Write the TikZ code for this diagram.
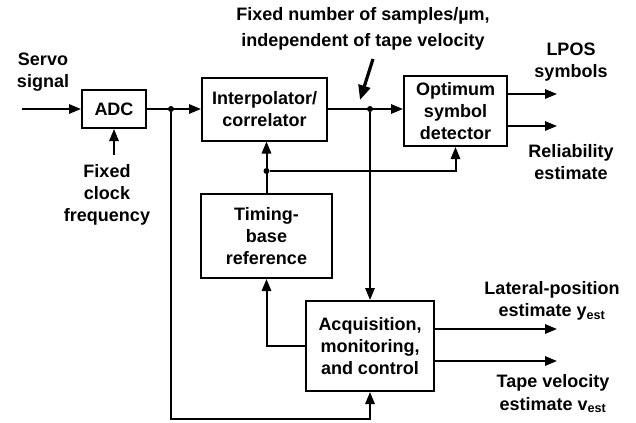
\documentclass[tikz,border=0pt]{standalone}
\usepackage{fontspec}
\setmainfont{Liberation Sans}
\usetikzlibrary{positioning,arrows.meta}

\newcommand{\blkfont}{\fontsize{13.5}{16.6}\selectfont}
\tikzset{
    blk/.style={draw, line width=1.5pt, align=center, font=\bfseries\blkfont, inner sep=0pt},
    lbl/.style={align=center, font=\bfseries\blkfont, inner sep=0pt},
    wire/.style={line width=1.5pt},
    sig/.style={wire, -{Triangle[length=9pt,width=7pt]}},
    dot/.style={circle, fill, inner sep=0pt, minimum size=4.5pt},
}

\begin{document}
\begin{tikzpicture}[x=0.75pt, y=-0.75pt]
    \useasboundingbox (0,0) rectangle (636,422);

    % processing blocks
    \node[blk, minimum width=48pt, minimum height=28.5pt] (adc) at (114,109) {ADC};
    \node[blk, minimum width=93.75pt, minimum height=47.25pt] (interp) at (264.5,109) {Interpolator/\\correlator};
    \node[blk, minimum width=77.25pt, minimum height=52.5pt] (detector) at (455.5,111) {Optimum\\symbol\\detector};
    \node[blk, minimum width=98.25pt, minimum height=63pt] (timing) at (266.5,236) {Timing-\\base\\reference};
    \node[blk, minimum width=96pt, minimum height=67.5pt] (acq) at (370,346) {Acquisition,\\monitoring,\\and control};

    % branch points
    \node[dot] (j1) at (171,109) {};
    \node[dot] (j2) at (370,109) {};
    \node[dot] (j3) at (266.5,171) {};

    \coordinate (servo) at (22,109);
    \coordinate (clock) at (114,155);
    \coordinate (bend) at (171,419);
    \coordinate (outA) at (557,94);
    \coordinate (outB) at (557,126);
    \coordinate (outC) at (557,329);
    \coordinate (outD) at (557,361);
    \coordinate (ptrA) at (373,59);
    \coordinate (ptrB) at (360,100);

    % signal path
    \draw[sig] (servo) -- (servo -| adc.west);
    \draw[sig] (clock) -- (adc.south);
    \draw[sig] (adc) -- (interp);
    \draw[sig] (interp.east) -- (interp.east -| detector.west);
    \draw[sig] (j2) -- (j2 |- acq.north);
    \draw[sig] (j1) -- (bend) -| (acq.south);
    \draw[sig] (timing.north) -- (timing.north |- interp.south);
    \draw[sig] (j3) -| (detector.south);
    \draw[sig] (acq.west) -| (timing.south);

    % outputs
    \draw[sig] (outA -| detector.east) -- (outA);
    \draw[sig] (outB -| detector.east) -- (outB);
    \draw[sig] (outC -| acq.east) -- (outC);
    \draw[sig] (outD -| acq.east) -- (outD);

    % labels
    \node[lbl] (servolbl) at (43,72.5) {Servo\\signal};
    \node[lbl] (clocklbl) at (107,195) {Fixed\\clock\\frequency};
    \node[lbl, font=\bfseries\fontsize{13.5}{19.5}\selectfont] (note) at (363,29)
        {Fixed number of samples/µm,\\independent of tape velocity};
    \draw[line width=2.4pt, -{Triangle[length=11pt,width=9pt]}] (ptrA) -- (ptrB);
    \node[lbl] (lposlbl) at (571,62.5) {LPOS\\symbols};
    \node[lbl] (rellbl) at (571,162) {Reliability\\estimate};
    \node[lbl] (latlbl) at (552,301) {Lateral-position\\estimate y\textsubscript{est}};
    \node[lbl] (vellbl) at (553,394) {Tape velocity\\estimate v\textsubscript{est}};
\end{tikzpicture}
\end{document}
